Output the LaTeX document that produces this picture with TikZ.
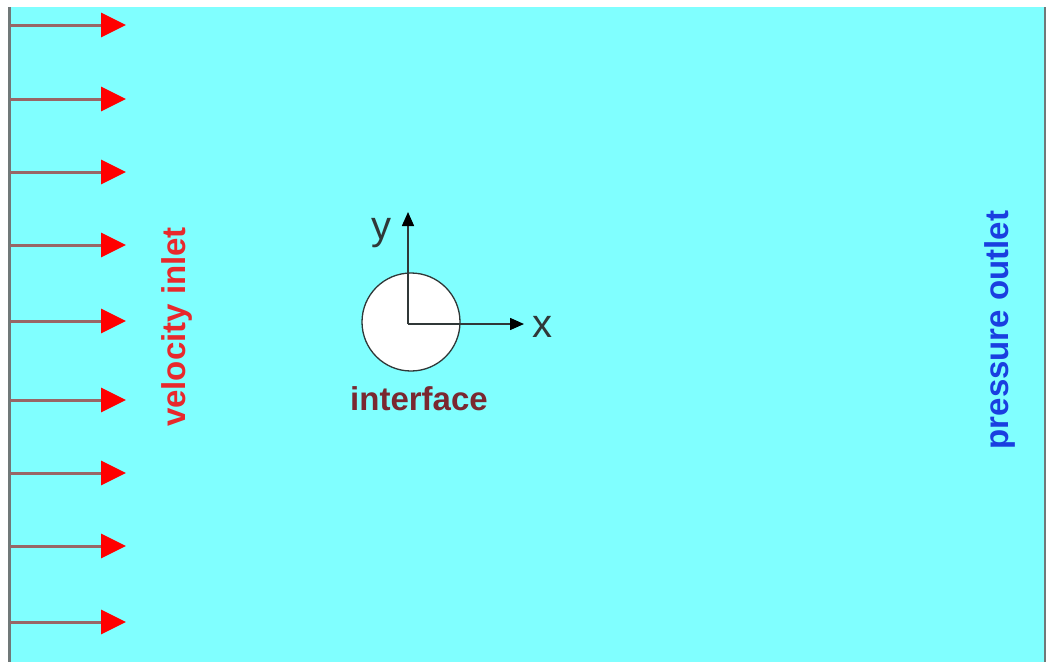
\documentclass[tikz,border=0pt]{standalone}
\usepackage{fontspec}
\setmainfont{Liberation Sans}
\usetikzlibrary{arrows.meta}
\definecolor{fluid}{HTML}{80FFFF}
\definecolor{wallgray}{HTML}{707878}
\definecolor{inred}{HTML}{E8282C}
\definecolor{outblue}{HTML}{1A3FE0}
\definecolor{ifred}{HTML}{7A2830}
\definecolor{axgray}{HTML}{303838}
\tikzset{
  inflow/.style={draw=gray!80!red, line width=3pt,
    -{Triangle[length=25pt,width=24pt,color=red,fill=red]}},
  axis/.style={draw=axgray, line width=1.5pt,
    -{Triangle[length=14pt,width=12pt,color=black,fill=black]}},
  lbl/.style={font=\fontsize{33}{33}\selectfont\bfseries, inner sep=0pt},
  axlbl/.style={font=\fontsize{40}{40}\selectfont, text=axgray, inner sep=0pt}
}
\begin{document}
\begin{tikzpicture}[x=1pt,y=-1pt]
\useasboundingbox (0,0) rectangle (1052,662);
\fill[white] (0,0) rectangle (1052,662);
\fill[fluid] (9,7) rectangle (1046,662);
\draw[wallgray, line width=2.5pt] (9.5,7) -- (9.5,662);
\draw[wallgray, line width=2.5pt] (1045,7) -- (1045,662);
\foreach \i/\yy in {1/25,2/99,3/172,4/245,5/321,6/400,7/473,8/546,9/622}{
  \coordinate (s\i) at (10,\yy);
  \coordinate (t\i) at (126,\yy);
  \draw[inflow] (s\i) -- (t\i);
}
\node[circle, draw=axgray, fill=white, line width=1.3pt, minimum size=98pt, inner sep=0pt] (cyl) at (411,322) {};
\coordinate (ytip) at (408,212);
\coordinate (xtip) at (524,324);
\draw[axis] (408,324) -- (ytip);
\draw[axis] (408,324) -- (xtip);
\node[axlbl, anchor=base] (ylab) at (381,239) {y};
\node[axlbl, anchor=base] (xlab) at (542,337) {x};
\node[lbl, text=ifred, anchor=base] (iflab) at (419,410) {interface};
\node[lbl, text=inred, rotate=90] (inlet) at (177,327) {velocity inlet};
\node[lbl, text=outblue, rotate=90] (outlet) at (1000,330) {pressure outlet};
\end{tikzpicture}
\end{document}
